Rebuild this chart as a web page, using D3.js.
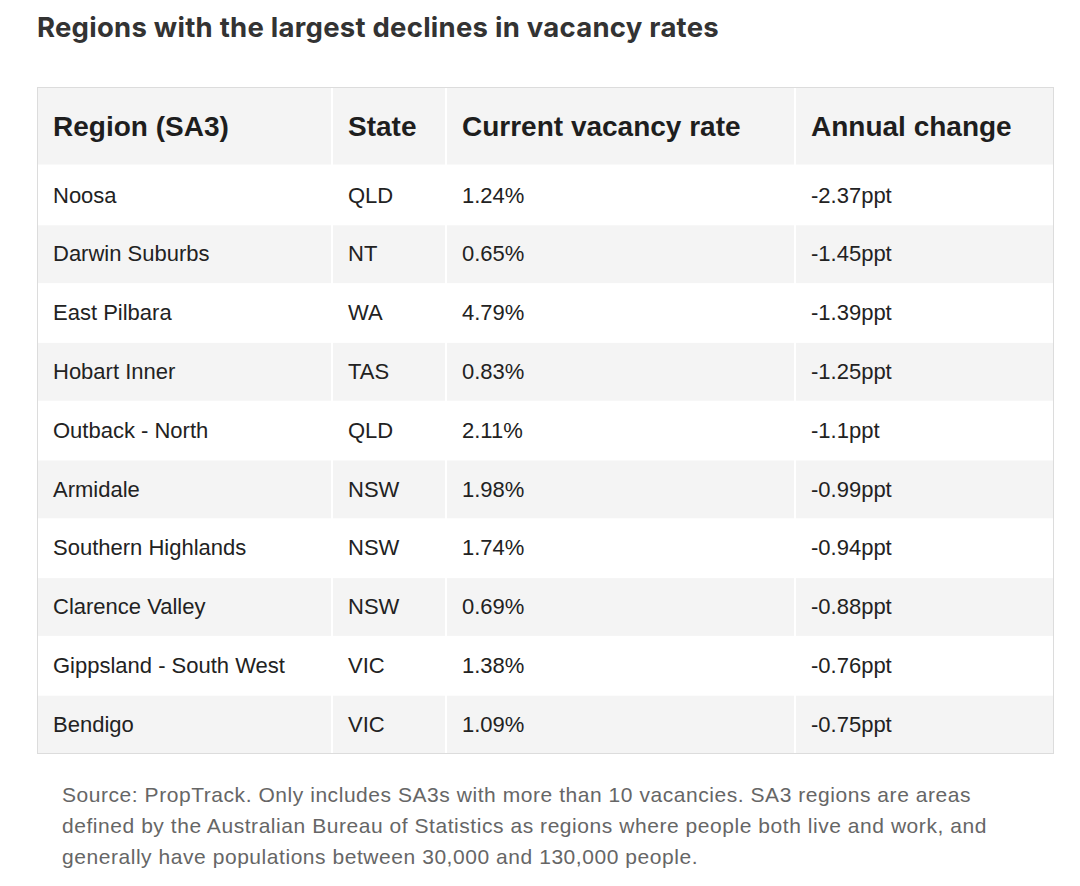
<!DOCTYPE html>
<html><head><meta charset="utf-8">
<script src="https://cdn.jsdelivr.net/npm/d3@7"></script>
<style>
html,body{margin:0;padding:0;background:#fff;}
</style></head>
<body>
<svg id="chart" width="1080" height="886"></svg>
<script>
const title = "Regions with the largest declines in vacancy rates";
const headers = ["Region (SA3)", "State", "Current vacancy rate", "Annual change"];
const regions = ["Noosa","Darwin Suburbs","East Pilbara","Hobart Inner","Outback - North","Armidale","Southern Highlands","Clarence Valley","Gippsland - South West","Bendigo"];
const states = ["QLD","NT","WA","TAS","QLD","NSW","NSW","NSW","VIC","VIC"];
const vacancyRates = [1.24,0.65,4.79,0.83,2.11,1.98,1.74,0.69,1.38,1.09];
const annualChanges = ["-2.37","-1.45","-1.39","-1.25","-1.1","-0.99","-0.94","-0.88","-0.76","-0.75"];
const footnoteLines = [
  "Source: PropTrack. Only includes SA3s with more than 10 vacancies. SA3 regions are areas",
  "defined by the Australian Bureau of Statistics as regions where people both live and work, and",
  "generally have populations between 30,000 and 130,000 people."
];

const svg = d3.select("#chart");
const tableLeft = 37, tableRight = 1054, tableTop = 87.5, headerH = 78, rowH = 58.8;
const colEdges = [tableLeft, 332, 446, 795, tableRight];
const pad = 16;

svg.append("text").attr("x", 37).attr("y", 37)
  .attr("font-family", "Inter, 'Open Sans', sans-serif").attr("font-weight", 700)
  .attr("font-size", 27.5).attr("letter-spacing", 0.25).attr("fill", "#333")
  .text(title);

const rows = regions.map((r, i) => [r, states[i], d3.format(".2f")(vacancyRates[i]) + "%", annualChanges[i] + "ppt"]);

const y = d3.scaleBand().domain(d3.range(rows.length)).range([tableTop + headerH, tableTop + headerH + rowH * rows.length]);
const col = i => colEdges[i];

const hdr = svg.append("g");
headers.forEach((h, c) => {
  hdr.append("rect").attr("x", col(c) + (c ? 1 : 0)).attr("y", tableTop)
    .attr("width", col(c + 1) - col(c) - (c ? 1 : 0) - (c < 3 ? 1 : 0)).attr("height", headerH - 1)
    .attr("fill", "#f4f4f4");
  hdr.append("text").attr("x", col(c) + pad).attr("y", tableTop + headerH / 2)
    .attr("dy", "0.35em").attr("font-family", "'Liberation Sans', Arial, sans-serif")
    .attr("font-weight", 700).attr("font-size", 28).attr("fill", "#1e1e1e").text(h);
});

const rg = svg.selectAll("g.row").data(rows).join("g").attr("class", "row");
rg.each(function (d, i) {
  const g = d3.select(this);
  d.forEach((v, c) => {
    if (i % 2 === 1) {
      g.append("rect").attr("x", col(c) + (c ? 1 : 0)).attr("y", y(i) + 1)
        .attr("width", col(c + 1) - col(c) - (c ? 1 : 0) - (c < 3 ? 1 : 0)).attr("height", y.bandwidth() - 1)
        .attr("fill", "#f4f4f4");
    }
    g.append("text").attr("x", col(c) + pad).attr("y", y(i) + y.bandwidth() / 2)
      .attr("dy", "0.35em").attr("font-family", "'Liberation Sans', Arial, sans-serif")
      .attr("font-size", 22).attr("fill", "#222").text(v);
  });
});

svg.append("rect").attr("x", tableLeft + 0.5).attr("y", tableTop)
  .attr("width", tableRight - tableLeft - 1).attr("height", headerH + rowH * rows.length)
  .attr("fill", "none").attr("stroke", "#dcdcdc").attr("stroke-width", 1);

svg.append("g").selectAll("text").data(footnoteLines).join("text")
  .attr("x", 62).attr("y", (d, i) => 802 + i * 31)
  .attr("font-family", "'Liberation Sans', Arial, sans-serif").attr("font-size", 21)
  .attr("letter-spacing", 0.55).attr("fill", "#666").text(d => d);
</script>
</body></html>
